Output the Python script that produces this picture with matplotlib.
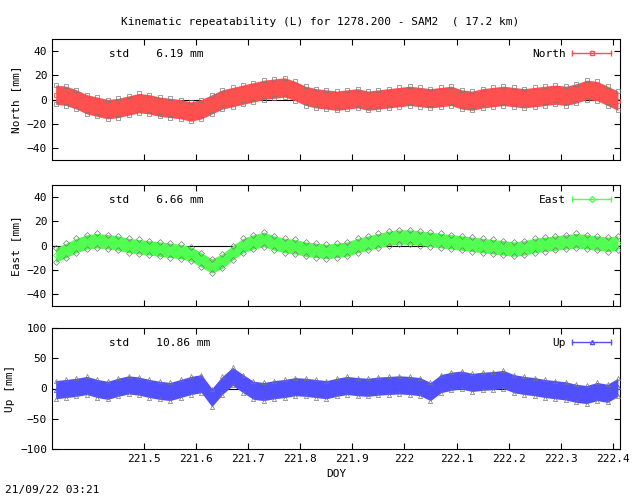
import numpy as np
import matplotlib.pyplot as plt

doy = [221.33, 221.35, 221.37, 221.39, 221.41, 221.43, 221.45, 221.47, 221.49, 221.51,
       221.53, 221.55, 221.57, 221.59, 221.61, 221.63, 221.65, 221.67, 221.69, 221.71,
       221.73, 221.75, 221.77, 221.79, 221.81, 221.83, 221.85, 221.87, 221.89, 221.91,
       221.93, 221.95, 221.97, 221.99, 222.01, 222.03, 222.05, 222.07, 222.09, 222.11,
       222.13, 222.15, 222.17, 222.19, 222.21, 222.23, 222.25, 222.27, 222.29, 222.31,
       222.33, 222.35, 222.37, 222.39, 222.41]
north = [4, 3, 0, -4, -6, -8, -7, -5, -3, -4, -6, -7, -8, -10, -8, -4, 0, 2, 4, 6,
         8, 9, 10, 7, 3, 1, 0, -1, 0, 1, -1, 0, 1, 2, 3, 2, 1, 2, 3, 0,
         -1, 1, 2, 3, 2, 1, 2, 3, 4, 3, 5, 8, 7, 3, -1]
north_w = [8] * len(doy)
east = [-8, -4, 0, 3, 4, 3, 2, 0, -1, -2, -3, -4, -5, -7, -12, -17, -13, -6, 0, 3,
        5, 2, 0, -1, -3, -4, -5, -4, -3, 0, 2, 4, 6, 7, 7, 6, 5, 4, 3, 2,
        1, 0, -1, -2, -3, -2, 0, 1, 2, 3, 4, 3, 2, 1, 2]
east_w = [6] * len(doy)
up = [-2, 0, 2, 5, 0, -3, 2, 6, 4, 0, -3, -5, 0, 5, 8, -15, 5, 20, 8, -3,
      -5, -2, 0, 3, 2, 0, -2, 2, 5, 3, 2, 4, 5, 6, 5, 3, -5, 8, 12, 14,
      10, 12, 13, 15, 8, 5, 3, 0, -2, -4, -8, -10, -5, -8, 2]
up_w = [15] * len(doy)

panels = [
    ("North", north, north_w, "#ff5050", "s", "6.19", (-50, 50), [-40, -20, 0, 20, 40]),
    ("East", east, east_w, "#50ff50", "D", "6.66", (-50, 50), [-40, -20, 0, 20, 40]),
    ("Up", up, up_w, "#5050ff", "^", "10.86", (-100, 100), [-100, -50, 0, 50, 100]),
]

plt.rcParams['font.family'] = 'DejaVu Sans Mono'
plt.rcParams['font.size'] = 8

fig = plt.figure(figsize=(6.4, 4.96), dpi=100)
tops = [39, 185, 328]
for (name, vals, w, col, mk, std, ylim, yt), top in zip(panels, tops):
    ax = fig.add_axes([52 / 640, 1 - (top + 121) / 496, 568 / 640, 121 / 496])
    v = np.array(vals)
    ww = np.array(w)
    ax.axhline(0, color='k', lw=0.8, zorder=1)
    ax.fill_between(doy, v - ww, v + ww, color=col, lw=0, zorder=2)
    ax.plot(doy, v + ww, mk, color=col, ms=3, mfc='none', mec='#777777', mew=0.5, zorder=3)
    ax.plot(doy, v - ww, mk, color=col, ms=3, mfc='none', mec='#777777', mew=0.5, zorder=3)
    ax.plot(doy, v, mk, color=col, ms=3, mfc='none', mew=0.6, zorder=3)
    ax.set_xlim(221.323, 222.414)
    ax.set_ylim(*ylim)
    ax.set_yticks(yt)
    ax.set_xticks([221.5, 221.6, 221.7, 221.8, 221.9, 222, 222.1, 222.2, 222.3, 222.4])
    ax.set_xticklabels(['221.5', '221.6', '221.7', '221.8', '221.9', '222',
                        '222.1', '222.2', '222.3', '222.4'])
    ax.tick_params(direction='in', top=True, right=True, length=4)
    ax.set_ylabel(name + " [mm]")
    ax.text(0.1, 0.92, "std    " + std + " mm", transform=ax.transAxes, va='top')
    # gnuplot-style key: label, then a horizontal error bar with marker
    ax.text(0.905, 0.92, name, transform=ax.transAxes, ha='right', va='top')
    ax.plot([0.915, 0.985], [0.885, 0.885], color=col, lw=1, transform=ax.transAxes)
    ax.plot([0.915, 0.985], [0.885, 0.885], '|', color=col, ms=5, transform=ax.transAxes)
    ax.plot([0.95], [0.885], mk, color=col, ms=3, mfc='none', transform=ax.transAxes)
    if name != "Up":
        ax.set_xticklabels([])
    else:
        ax.set_xlabel("DOY")

fig.text(0.5, 1 - 22 / 496, "Kinematic repeatability (L) for 1278.200 - SAM2  ( 17.2 km)",
         ha='center', va='center')
fig.text(5 / 640, 1 - 490 / 496, "21/09/22 03:21", va='center')
fig.savefig('out.png', dpi=100)
